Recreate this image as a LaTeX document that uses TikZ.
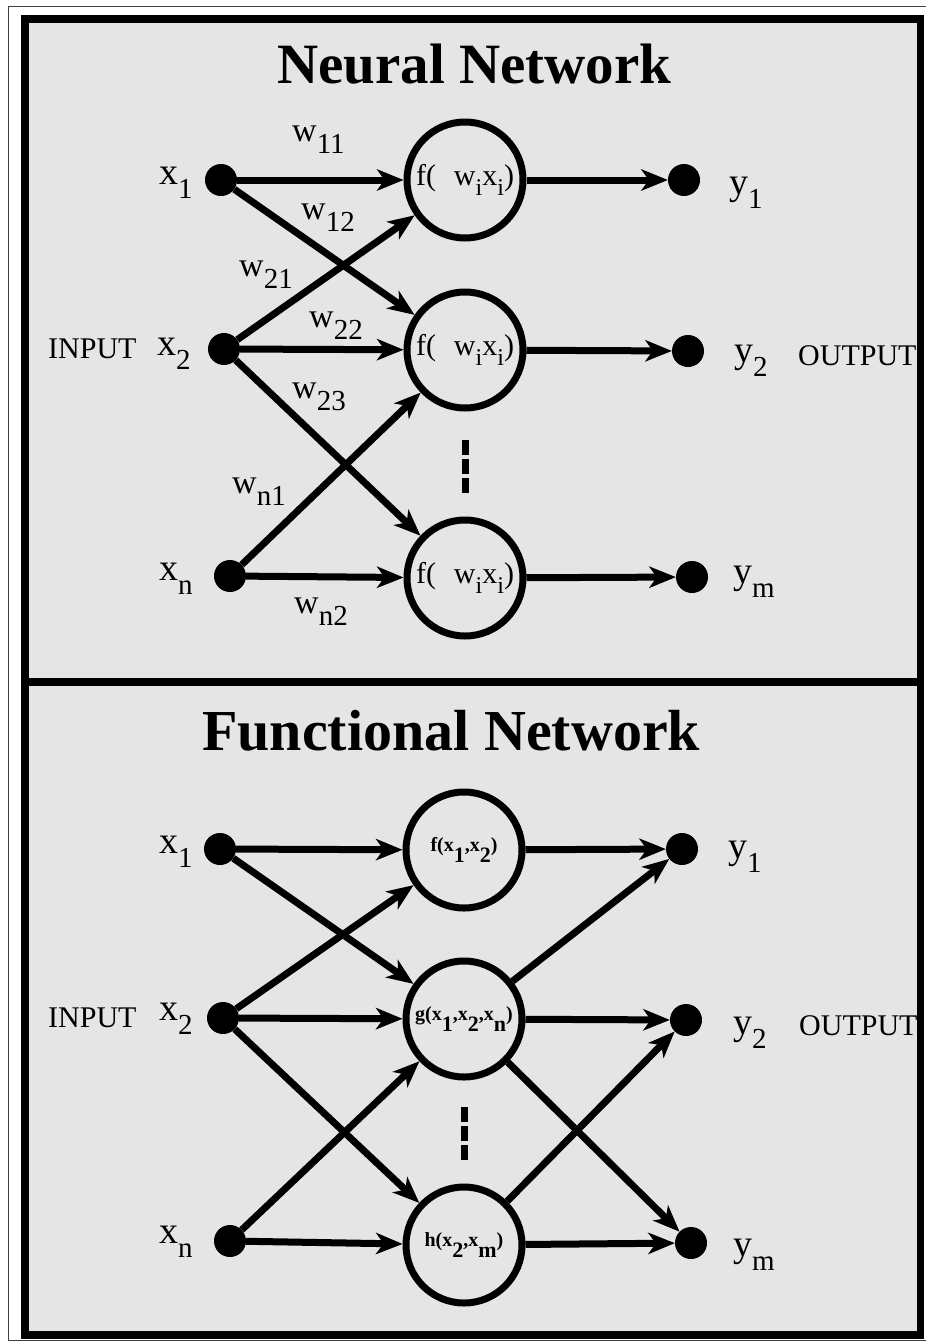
\documentclass[tikz,border=0pt]{standalone}
\usepackage{fontspec}
\setmainfont{Liberation Serif}
\usetikzlibrary{arrows.meta}
\definecolor{panelgray}{RGB}{229,229,229}

% variable with subscript (x_1, y_m ...)
\newcommand{\idx}[2]{{\fontsize{38}{38}\selectfont #1}\raisebox{-14pt}{\fontsize{29}{29}\selectfont #2}}
% weight label w_{ij}
\newcommand{\wgt}[1]{{\fontsize{34}{34}\selectfont w}\raisebox{-12pt}{\fontsize{29}{29}\selectfont #1}}
% subscripts inside the processing units
\newcommand{\nsub}[1]{\raisebox{-10pt}{\fontsize{24}{24}\selectfont #1}}
\newcommand{\bsub}[1]{\raisebox{-11pt}{\fontsize{22}{22}\selectfont\bfseries #1}}
\newcommand{\neuron}{{\fontsize{30}{30}\selectfont f(\hspace{18pt}w\nsub{i}x\nsub{i})}}
\newcommand{\bfun}[1]{{\fontsize{20}{20}\selectfont\bfseries #1}}

\begin{document}
\begin{tikzpicture}[x=1pt, y=-1pt,
  blob/.style={circle, fill=black, minimum size=32pt, inner sep=0pt},
  neuronbox/.style={circle, draw, line width=7pt, minimum size=116pt, inner sep=0pt},
  wire/.style={line width=7pt, -{Stealth[length=27pt, width=22pt, inset=8pt, line width=0pt]}},
  txt/.style={anchor=base west, inner sep=0pt},
  dots/.style={line width=7pt, dash pattern=on 15pt off 4pt}]

\useasboundingbox (0,0) rectangle (926,1341);
\fill[white] (0,0) rectangle (926,1341);

% frame and the two panels
\draw[line width=1pt, black!75] (8,6) rectangle (928,1340);
\filldraw[fill=panelgray, line width=7.5pt] (25,19) rectangle (920.5,1335);
\draw[line width=8pt] (25,682) -- (920.5,682);

% ---------------- Neural Network ----------------
\node[txt] (title1) at (277,83) {\fontsize{57}{57}\selectfont\bfseries Neural Network};

\node[blob] (a1) at (221,180) {};
\node[blob] (a2) at (224,349) {};
\node[blob] (an) at (230,576) {};

\node[neuronbox] (n1) at (465,180) {\neuron};
\node[neuronbox] (n2) at (465,350) {\neuron};
\node[neuronbox] (n3) at (465,578) {\neuron};

\node[blob] (b1) at (684,180) {};
\node[blob] (b2) at (688,351) {};
\node[blob] (bm) at (692,577) {};

\node[txt] (lx1) at (159,184) {\idx{x}{1}};
\node[txt] (lx2) at (157,355) {\idx{x}{2}};
\node[txt] (lxn) at (159,580) {\idx{x}{n}};
\node[txt] (ly1) at (729,194) {\idx{y}{1}};
\node[txt] (ly2) at (734,362) {\idx{y}{2}};
\node[txt] (lym) at (733,583) {\idx{y}{m}};
\node[txt] (in1) at (48,358) {\fontsize{30}{30}\selectfont INPUT};
\node[txt] (out1) at (798,365) {\fontsize{30}{30}\selectfont OUTPUT};

\node[txt] (w11) at (292,141) {\wgt{11}};
\node[txt] (w12) at (301,219) {\wgt{12}};
\node[txt] (w21) at (239,276) {\wgt{21}};
\node[txt] (w22) at (309,327) {\wgt{22}};
\node[txt] (w23) at (292,398) {\wgt{23}};
\node[txt] (wn1) at (232,493) {\wgt{n1}};
\node[txt] (wn2) at (294,613) {\wgt{n2}};

\draw[wire] (a1) -- (n1);
\draw[wire] (a1) -- (n2);
\draw[wire] (a2) -- (n1);
\draw[wire] (a2) -- (n2);
\draw[wire] (a2) -- (n3);
\draw[wire] (an) -- (n2);
\draw[wire] (an) -- (n3);
\draw[wire] (n1) -- (b1);
\draw[wire] (n2) -- (b2);
\draw[wire] (n3) -- (bm);

\draw[dots] (465,440) -- (465,493);

% ---------------- Functional Network ----------------
\node[txt] (title2) at (202,750) {\fontsize{58}{58}\selectfont\bfseries Functional Network};

\node[blob] (c1) at (220,849) {};
\node[blob] (c2) at (223,1018) {};
\node[blob] (cn) at (230,1241) {};

\node[neuronbox] (f) at (464,850) {\bfun{f(x}\bsub{1}\bfun{,x}\bsub{2}\bfun{)}};
\node[neuronbox] (g) at (464,1019) {\bfun{g(x}\bsub{1}\bfun{,x}\bsub{2}\bfun{,x}\bsub{n}\bfun{)}};
\node[neuronbox] (h) at (464,1245) {\bfun{h(x}\bsub{2}\bfun{,x}\bsub{m}\bfun{)}};

\node[blob] (d1) at (682,849) {};
\node[blob] (d2) at (686,1020) {};
\node[blob] (dm) at (691,1243) {};

\node[txt] (mx1) at (159,853) {\idx{x}{1}};
\node[txt] (mx2) at (159,1020) {\idx{x}{2}};
\node[txt] (mxn) at (159,1243) {\idx{x}{n}};
\node[txt] (my1) at (728,858) {\idx{y}{1}};
\node[txt] (my2) at (733,1034) {\idx{y}{2}};
\node[txt] (mym) at (733,1256) {\idx{y}{m}};
\node[txt] (in2) at (48,1027) {\fontsize{30}{30}\selectfont INPUT};
\node[txt] (out2) at (799,1035) {\fontsize{30}{30}\selectfont OUTPUT};

\draw[wire] (c1) -- (f);
\draw[wire] (c1) -- (g);
\draw[wire] (c2) -- (f);
\draw[wire] (c2) -- (g);
\draw[wire] (c2) -- (h);
\draw[wire] (cn) -- (g);
\draw[wire] (cn) -- (h);
\draw[wire] (f) -- (d1);
\draw[wire] (g) -- (d1);
\draw[wire] (g) -- (d2);
\draw[wire] (g) -- (dm);
\draw[wire] (h) -- (d2);
\draw[wire] (h) -- (dm);

\draw[dots] (464,1107) -- (464,1161);
\end{tikzpicture}
\end{document}
